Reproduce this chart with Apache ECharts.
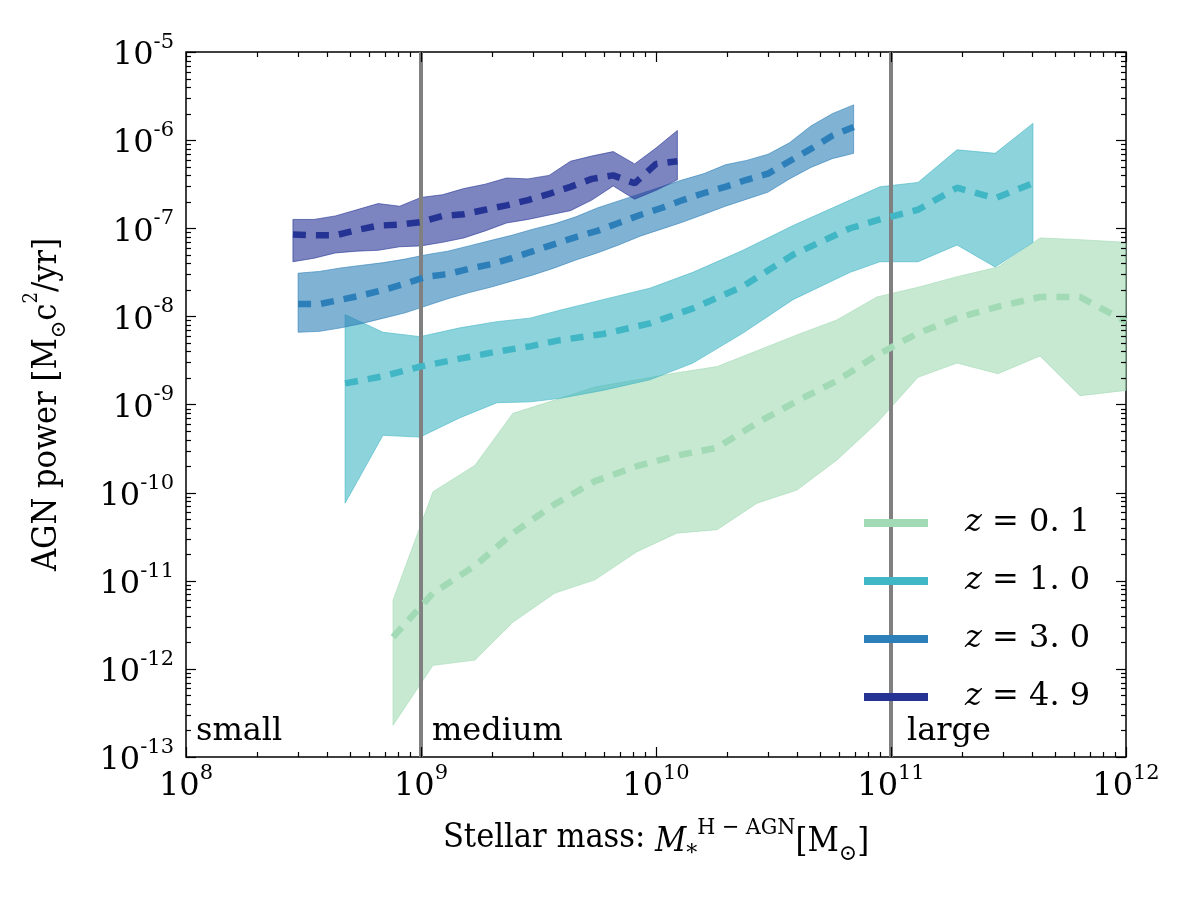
<!DOCTYPE html>
<html>
<head>
<meta charset="utf-8">
<script src="https://cdn.jsdelivr.net/npm/echarts@6/dist/echarts.min.js"></script>
<style>
  html, body { margin: 0; background: #fff; }
  #main { width: 1200px; height: 900px; }
</style>
</head>
<body>
<div id="main"></div>
<script>
// values, stored as log10(mass) and log10(power)
var logMassZ01 = [8.881, 9.051, 9.230, 9.391, 9.570, 9.740, 9.919, 10.089, 10.260, 10.430, 10.600, 10.770, 10.940, 11.115, 11.281, 11.455, 11.634, 11.804, 12.0];
var logLowZ01  = [-12.64, -11.96, -11.90, -11.47, -11.14, -10.99, -10.67, -10.46, -10.42, -10.12, -9.97, -9.63, -9.21, -8.69, -8.53, -8.65, -8.45, -8.90, -8.84];
var logHighZ01 = [-11.22, -9.99, -9.69, -9.10, -8.95, -8.80, -8.72, -8.64, -8.57, -8.39, -8.21, -8.04, -7.78, -7.67, -7.55, -7.44, -7.11, -7.13, -7.16];
var logMedZ01  = [-11.64, -11.14, -10.83, -10.46, -10.13, -9.87, -9.70, -9.58, -9.49, -9.21, -8.96, -8.73, -8.44, -8.19, -8.02, -7.89, -7.78, -7.78, -8.06];

var logMassZ10 = [8.677, 8.838, 8.996, 9.166, 9.323, 9.464, 9.591, 9.774, 9.974, 10.157, 10.370, 10.583, 10.826, 10.953, 11.115, 11.281, 11.443, 11.604];
var logLowZ10  = [-10.12, -9.35, -9.37, -9.15, -8.98, -8.97, -8.93, -8.84, -8.72, -8.53, -8.19, -7.81, -7.50, -7.38, -7.38, -7.19, -7.44, -7.16];
var logHighZ10 = [-7.98, -8.18, -8.23, -8.13, -8.06, -8.02, -7.93, -7.81, -7.68, -7.50, -7.25, -6.97, -6.68, -6.53, -6.48, -6.11, -6.15, -5.81];
var logMedZ10  = [-8.76, -8.68, -8.57, -8.48, -8.40, -8.34, -8.27, -8.20, -8.08, -7.91, -7.66, -7.30, -7.00, -6.90, -6.79, -6.54, -6.66, -6.49];

var logMassZ30 = [8.477, 8.568, 8.659, 8.750, 8.841, 8.932, 9.023, 9.114, 9.205, 9.295, 9.386, 9.477, 9.568, 9.659, 9.750, 9.841, 9.932, 10.023, 10.114, 10.205, 10.295, 10.386, 10.477, 10.568, 10.659, 10.750, 10.841];
var logLowZ30  = [-8.18, -8.17, -8.13, -8.08, -8.02, -7.96, -7.88, -7.80, -7.73, -7.67, -7.60, -7.53, -7.45, -7.36, -7.28, -7.19, -7.09, -7.01, -6.93, -6.84, -6.75, -6.67, -6.59, -6.44, -6.31, -6.21, -6.15];
var logHighZ30 = [-7.51, -7.49, -7.45, -7.42, -7.39, -7.35, -7.30, -7.26, -7.20, -7.14, -7.08, -7.01, -6.95, -6.87, -6.77, -6.69, -6.61, -6.53, -6.45, -6.38, -6.28, -6.23, -6.16, -6.03, -5.84, -5.70, -5.60];
var logMedZ30  = [-7.86, -7.86, -7.81, -7.76, -7.70, -7.63, -7.55, -7.52, -7.46, -7.41, -7.34, -7.26, -7.18, -7.10, -7.03, -6.94, -6.85, -6.77, -6.68, -6.60, -6.53, -6.45, -6.38, -6.24, -6.10, -5.95, -5.85];

var logMassZ49 = [8.455, 8.545, 8.636, 8.727, 8.818, 8.909, 9.0, 9.091, 9.182, 9.273, 9.364, 9.455, 9.545, 9.636, 9.727, 9.818, 9.909, 10.0, 10.091];
var logLowZ49  = [-7.38, -7.34, -7.28, -7.26, -7.25, -7.21, -7.20, -7.16, -7.11, -7.03, -6.94, -6.90, -6.85, -6.80, -6.68, -6.52, -6.67, -6.57, -6.45];
var logHighZ49 = [-6.90, -6.90, -6.86, -6.79, -6.72, -6.75, -6.65, -6.62, -6.55, -6.50, -6.43, -6.44, -6.40, -6.24, -6.18, -6.13, -6.27, -6.09, -5.89];
var logMedZ49  = [-7.07, -7.08, -7.08, -7.02, -6.97, -6.96, -6.93, -6.86, -6.84, -6.79, -6.74, -6.68, -6.61, -6.53, -6.44, -6.40, -6.49, -6.27, -6.24];

var seriesNames = ['z01', 'z10', 'z30', 'z49'];
var legendLabels = ['0. 1', '1. 0', '3. 0', '4. 9'];
var lineColors = ['#a1dab4', '#41b6c4', '#2c7fb8', '#253494'];
var bandColors = ['rgba(161,218,180,0.6)', 'rgba(65,182,196,0.6)', 'rgba(44,127,184,0.6)', 'rgba(37,52,148,0.6)'];

var xTicks = [1e8, 1e9, 1e10, 1e11, 1e12];
var yTicks = [1e-13, 1e-12, 1e-11, 1e-10, 1e-9, 1e-8, 1e-7, 1e-6, 1e-5];
var sizeEdges = [1e9, 1e11];
var regionNames = ['small', 'medium', 'large'];
var regionStarts = [1e8, 1e9, 1e11];
var regionOffsets = [10, 11, 16];

var serif = '"DejaVu Serif", serif';
var condSerif = '"DejaVu Serif Condensed", "DejaVu Serif", serif';

function minorOf(majors) {
    var out = [];
    for (var i = 0; i < majors.length - 1; i++) {
        for (var k = 2; k <= 9; k++) out.push(k * majors[i]);
    }
    return out;
}
var xMinor = minorOf(xTicks);
var yMinor = minorOf(yTicks);

function pairs(xs, ys) {
    return xs.map(function (x, i) { return [Math.pow(10, x), Math.pow(10, ys[i])]; });
}

function band(name, xs, lo, hi, fill) {
    var data = xs.map(function (x, i) { return [Math.pow(10, x), Math.pow(10, lo[i]), Math.pow(10, hi[i])]; });
    return {
        type: 'custom',
        name: name + '_band',
        silent: true,
        z: 2,
        data: data,
        encode: { x: 0, y: [1, 2] },
        renderItem: function (params, api) {
            if (params.dataIndex !== 0) return null;
            var top = [], bot = [];
            for (var i = 0; i < data.length; i++) {
                top.push(api.coord([data[i][0], data[i][2]]));
                bot.push(api.coord([data[i][0], data[i][1]]));
            }
            return {
                type: 'polygon',
                shape: { points: top.concat(bot.reverse()) },
                style: { fill: fill, stroke: fill, lineWidth: 1 }
            };
        }
    };
}

function median(name, xs, ys, color) {
    return {
        type: 'line',
        name: name,
        data: pairs(xs, ys),
        symbol: 'none',
        silent: true,
        z: 4,
        itemStyle: { color: color },
        lineStyle: { color: color, width: 6.5, type: [13, 10], cap: 'butt' }
    };
}

function vline(x) {
    return {
        type: 'line',
        data: [[x, 1e-13], [x, 1e-5]],
        symbol: 'none',
        silent: true,
        z: 3,
        lineStyle: { color: '#808080', width: 4 }
    };
}

// inward ticks on all four sides of the frame
var tickSeries = {
    type: 'custom',
    silent: true,
    z: 6,
    clip: false,
    data: [[1e10, 1e-9]],
    renderItem: function (params, api) {
        var cs = params.coordSys;
        var left = cs.x, right = cs.x + cs.width, top = cs.y, bottom = cs.y + cs.height;
        var kids = [];
        function seg(x1, y1, x2, y2) {
            kids.push({ type: 'line', shape: { x1: x1, y1: y1, x2: x2, y2: y2 },
                        style: { stroke: '#000', lineWidth: 1.2 } });
        }
        xTicks.concat(xMinor).forEach(function (v, i) {
            var len = i < xTicks.length ? 10 : 5;
            var px = Math.round(api.coord([v, 1e-9])[0]) + 0.5;
            seg(px, bottom, px, bottom - len);
            seg(px, top, px, top + len);
        });
        yTicks.concat(yMinor).forEach(function (v, i) {
            var len = i < yTicks.length ? 10 : 5;
            var py = Math.round(api.coord([1e10, v])[1]) + 0.5;
            seg(left, py, left + len, py);
            seg(right, py, right - len, py);
        });
        return { type: 'group', children: kids };
    }
};

var allX = [logMassZ01, logMassZ10, logMassZ30, logMassZ49];
var allLo = [logLowZ01, logLowZ10, logLowZ30, logLowZ49];
var allHi = [logHighZ01, logHighZ10, logHighZ30, logHighZ49];
var allMed = [logMedZ01, logMedZ10, logMedZ30, logMedZ49];

var series = [];
for (var s = 0; s < 4; s++) series.push(band(seriesNames[s], allX[s], allLo[s], allHi[s], bandColors[s]));
sizeEdges.forEach(function (x) { series.push(vline(x)); });
for (var s2 = 0; s2 < 4; s2++) series.push(median(seriesNames[s2], allX[s2], allMed[s2], lineColors[s2]));
series.push(tickSeries);

function expLabel(v) {
    return '{b|10}{s|' + Math.round(Math.log10(v)) + '}';
}
var expRich = {
    b: { fontFamily: serif, fontSize: 32, lineHeight: 40, verticalAlign: 'bottom', color: '#000' },
    s: { fontFamily: serif, fontSize: 21, lineHeight: 21, verticalAlign: 'top', color: '#000' }
};

var chart = echarts.init(document.getElementById('main'), null, { renderer: 'canvas' });
chart.setOption({
    backgroundColor: '#fff',
    animation: false,
    grid: { left: 186, right: 74, top: 52, bottom: 143, containLabel: false, outerBoundsMode: 'none',
            show: true, borderColor: '#000', borderWidth: 1.5, backgroundColor: 'transparent' },
    xAxis: {
        type: 'log', logBase: 10, min: 1e8, max: 1e12,
        axisLine: { show: false },
        axisTick: { show: false },
        axisLabel: { customValues: xTicks, formatter: expLabel, rich: expRich, margin: 6 },
        splitLine: { show: false },
        name: 'Stellar mass: {it|M}{sb|*}{sp|H − AGN}{t|[M}{sb|⊙}{t|]}',
        nameLocation: 'middle',
        nameGap: 60,
        nameTextStyle: {
            fontFamily: condSerif, fontSize: 34, color: '#000',
            rich: {
                t: { fontFamily: condSerif, fontSize: 34, lineHeight: 42, verticalAlign: 'bottom', color: '#000' },
                it: { fontFamily: condSerif, fontStyle: 'italic', fontSize: 34, lineHeight: 42, verticalAlign: 'bottom', color: '#000' },
                sp: { fontFamily: condSerif, fontSize: 23, lineHeight: 23, verticalAlign: 'top', color: '#000' },
                sb: { fontFamily: serif, fontSize: 22, lineHeight: 22, verticalAlign: 'bottom', color: '#000', padding: [0, 0, -6, 0] }
            }
        }
    },
    yAxis: {
        type: 'log', logBase: 10, min: 1e-13, max: 1e-5,
        axisLine: { show: false },
        axisTick: { show: false },
        axisLabel: { customValues: yTicks, formatter: expLabel, rich: expRich, margin: 12 },
        splitLine: { show: false },
        name: '{t|AGN power [M}{sb|⊙}{t|c}{sp|2}{t|/yr]}',
        nameLocation: 'middle',
        nameRotate: 90,
        nameGap: 122,
        nameTextStyle: {
            fontFamily: condSerif, fontSize: 34, color: '#000',
            rich: {
                t: { fontFamily: condSerif, fontSize: 34, lineHeight: 42, verticalAlign: 'bottom', color: '#000' },
                sp: { fontFamily: condSerif, fontSize: 20, lineHeight: 20, verticalAlign: 'top', color: '#000' },
                sb: { fontFamily: serif, fontSize: 21, lineHeight: 21, verticalAlign: 'bottom', color: '#000', padding: [0, 0, -6, 0] }
            }
        }
    },
    legend: {
        data: seriesNames,
        orient: 'vertical',
        left: 864,
        top: 503,
        icon: 'rect',
        itemWidth: 64,
        itemHeight: 8,
        itemGap: 18,
        padding: 0,
        selectedMode: false,
        formatter: function (name) {
            return '{i|z} = ' + legendLabels[seriesNames.indexOf(name)];
        },
        textStyle: {
            fontFamily: serif, fontSize: 32, color: '#000', lineHeight: 40, padding: [0, 0, 0, 32],
            rich: { i: { fontFamily: serif, fontStyle: 'italic', fontSize: 32, color: '#000', lineHeight: 40 } }
        }
    },
    series: series
});

var bottomY = chart.convertToPixel({ xAxisIndex: 0, yAxisIndex: 0 }, [1e8, 1e-13])[1];
chart.setOption({
    graphic: regionNames.map(function (txt, i) {
        var px = chart.convertToPixel({ xAxisIndex: 0, yAxisIndex: 0 }, [regionStarts[i], 1e-13])[0];
        return {
            type: 'text', left: px + regionOffsets[i], top: bottomY - 41, z: 10, silent: true,
            style: { text: txt, fontFamily: serif, fontSize: 32, fill: '#000' }
        };
    })
});
</script>
</body>
</html>
